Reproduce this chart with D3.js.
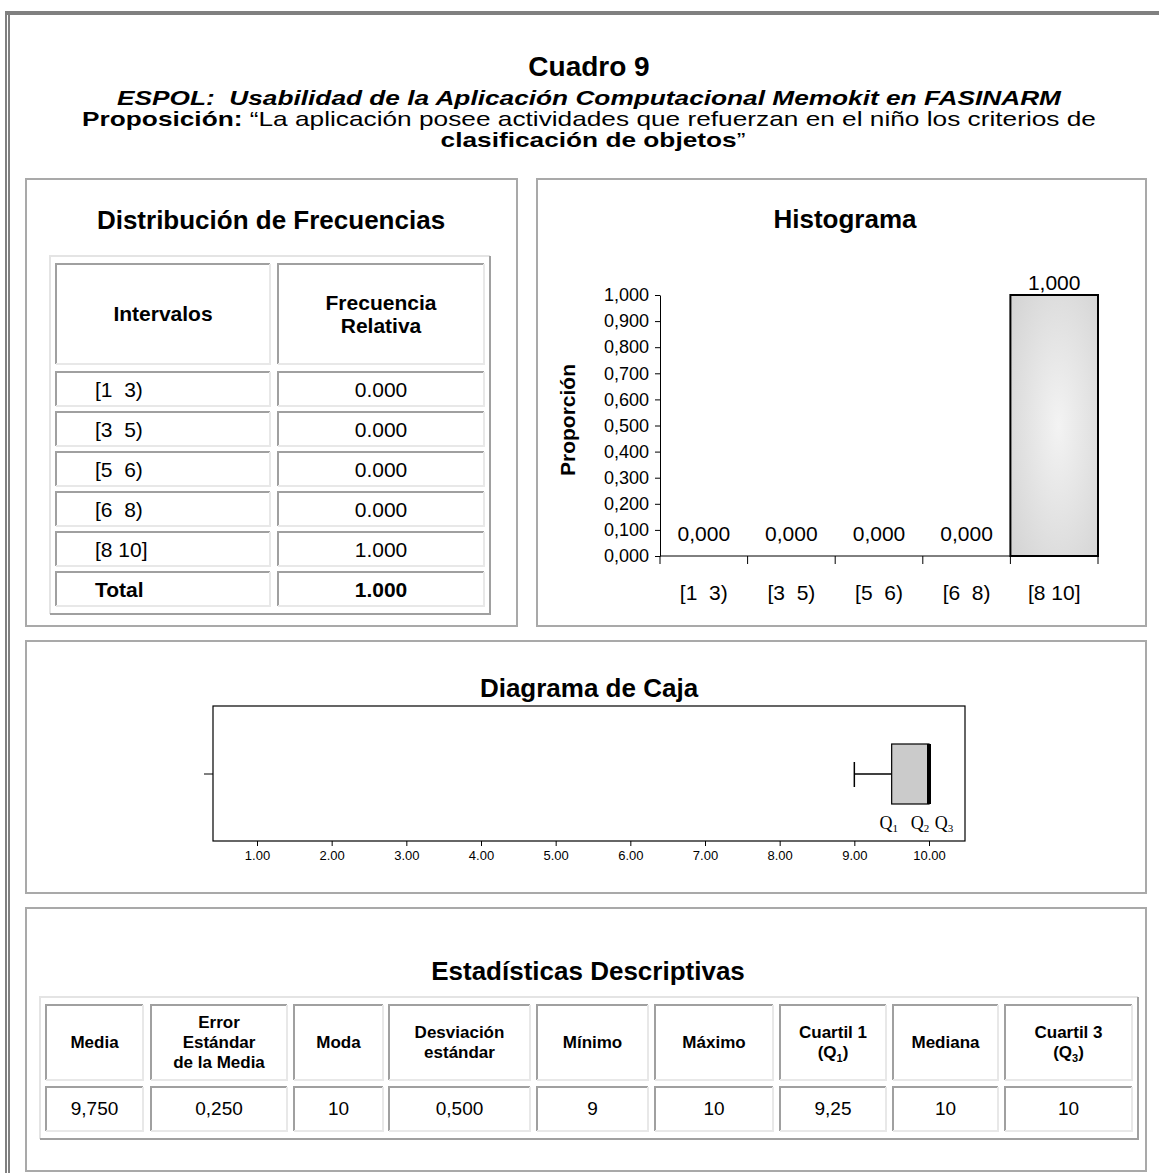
<!DOCTYPE html>
<html>
<head>
<meta charset="utf-8">
<script src="https://cdn.jsdelivr.net/npm/d3@7"></script>
<style>
  body { margin: 0; background: #fff; }
  svg text { font-family: Arial, "Liberation Sans", sans-serif; fill: #000; }
</style>
</head>
<body>
<script>
// ---- data ----
var intervals = ["[1  3)", "[3  5)", "[5  6)", "[6  8)", "[8 10]"];
var relFreq = [0, 0, 0, 0, 1];
var freqTotal = 1;
var propTicks = [0, 0.1, 0.2, 0.3, 0.4, 0.5, 0.6, 0.7, 0.8, 0.9, 1];

var boxTicks = [1, 2, 3, 4, 5, 6, 7, 8, 9, 10];
var boxKeys = ["min", "q1", "median", "q3", "max"];
var boxValues = [9, 9.5, 10, 10, 10];

var statHeaders = [["Media"], ["Error", "Estándar", "de la Media"], ["Moda"],
  ["Desviación", "estándar"], ["Mínimo"], ["Máximo"], ["Cuartil 1", "(Q_1)"],
  ["Mediana"], ["Cuartil 3", "(Q_3)"]];
var statValues = ["9,750", "0,250", "10", "0,500", "9", "10", "9,25", "10", "10"];

var es = d3.formatLocale({decimal: ",", thousands: ".", grouping: [3], currency: ["$", ""]});
var fmtComma = es.format(".3f");
var fmtDot = d3.format(".3f");

var svg = d3.select("body").append("svg")
  .attr("width", 1159)
  .attr("height", 1173);

// page frame
svg.append("rect").attr("x", 5).attr("y", 11).attr("width", 1154).attr("height", 4).attr("fill", "#808080");
svg.append("rect").attr("x", 5).attr("y", 11).attr("width", 2).attr("height", 1162).attr("fill", "#808080");
svg.append("rect").attr("x", 8).attr("y", 15).attr("width", 2).attr("height", 1158).attr("fill", "#808080");

function text(g, x, y, s, size, weight, anchor) {
  return g.append("text")
    .attr("x", x).attr("y", y)
    .attr("font-size", size)
    .attr("font-weight", weight || "normal")
    .attr("text-anchor", anchor || "middle")
    .style("white-space", "pre")
    .text(s);
}

// bevelled box, tl = colour of top/left edges, br = bottom/right
function bevel(g, x, y, w, h, tl, br) {
  g.append("path").attr("d", `M${x},${y + h}V${y}H${x + w}`)
    .attr("fill", "none").attr("stroke", tl).attr("stroke-width", 2);
  g.append("path").attr("d", `M${x + w},${y}V${y + h}H${x}`)
    .attr("fill", "none").attr("stroke", br).attr("stroke-width", 2);
}

function panel(x, y, w, h) {
  svg.append("rect").attr("x", x).attr("y", y).attr("width", w).attr("height", h)
    .attr("fill", "none").attr("stroke", "#a9a9a9").attr("stroke-width", 2);
}

// ---- heading (glyphs in the original are drawn wide) ----
var sx = 1.25;
text(svg, 589, 76, "Cuadro 9", 28, "bold");
text(svg, 0, 0, "ESPOL:  Usabilidad de la Aplicación Computacional Memokit en FASINARM", 21, "bold")
  .attr("font-style", "italic")
  .attr("transform", `translate(589,105) scale(${sx},1)`);
var l3 = svg.append("text").attr("font-size", 21).attr("text-anchor", "middle")
  .attr("transform", `translate(589,126) scale(${sx},1)`);
l3.append("tspan").attr("font-weight", "bold").text("Proposición:");
l3.append("tspan").text(" “La aplicación posee actividades que refuerzan en el niño los criterios de");
var l4 = svg.append("text").attr("font-size", 21).attr("text-anchor", "middle")
  .attr("transform", `translate(593,147) scale(${sx},1)`);
l4.append("tspan").attr("font-weight", "bold").text("clasificación de objetos");
l4.append("tspan").text("”");

// ---- panels ----
panel(26, 179, 491, 447);
panel(537, 179, 609, 447);
panel(26, 641, 1120, 252);
panel(26, 908, 1120, 263);

// ---- frequency table ----
var ft = svg.append("g");
text(ft, 271, 229, "Distribución de Frecuencias", 26, "bold");
bevel(ft, 50, 256, 440, 358, "#e4e4e4", "#a0a0a0");

var rowY = d3.scaleBand().domain(intervals.concat(["Total"])).range([372, 606]).paddingInner(0.15);
var colX = [56, 278], colW = [214, 206];

colX.forEach(function(cx, i) { bevel(ft, cx, 264, colW[i], 100, "#a0a0a0", "#e8e8e8"); });
text(ft, 163, 321, "Intervalos", 21, "bold");
text(ft, 381, 310, "Frecuencia", 21, "bold");
text(ft, 381, 333, "Relativa", 21, "bold");

intervals.forEach(function(d, i) {
  var y = rowY(d);
  colX.forEach(function(cx, j) { bevel(ft, cx, y, colW[j], rowY.bandwidth(), "#a0a0a0", "#e8e8e8"); });
  text(ft, 95, y + 25, d, 21, "normal", "start");
  text(ft, 381, y + 25, fmtDot(relFreq[i]), 21);
});
var ty = rowY("Total");
colX.forEach(function(cx, j) { bevel(ft, cx, ty, colW[j], rowY.bandwidth(), "#a0a0a0", "#e8e8e8"); });
text(ft, 95, ty + 25, "Total", 21, "bold", "start");
text(ft, 381, ty + 25, fmtDot(freqTotal), 21, "bold");

// ---- histogram ----
var hg = svg.append("g");
text(hg, 845, 228, "Histograma", 26, "bold");

var defs = svg.append("defs");
var grad = defs.append("radialGradient").attr("id", "barGrad").attr("cx", "55%").attr("cy", "50%").attr("r", "75%");
grad.append("stop").attr("offset", "0%").attr("stop-color", "#f3f3f3");
grad.append("stop").attr("offset", "100%").attr("stop-color", "#d2d2d2");

var x = d3.scaleBand().domain(intervals).range([660, 1098]).padding(0);
var y = d3.scaleLinear().domain([0, 1]).range([556, 295]);

var yAxis = hg.append("g")
  .attr("transform", "translate(660,0)")
  .call(d3.axisLeft(y).tickValues(propTicks).tickFormat(fmtComma).tickSize(5).tickSizeOuter(0).tickPadding(6));
yAxis.selectAll("text").attr("font-size", 18).attr("font-family", "Arial, 'Liberation Sans', sans-serif");
yAxis.selectAll("line, path").attr("stroke", "#000");

hg.append("line").attr("x1", 660).attr("x2", 1098).attr("y1", y(0)).attr("y2", y(0)).attr("stroke", "#000");
var bounds = intervals.map(function(d) { return x(d); }).concat([x(intervals[4]) + x.bandwidth()]);
hg.selectAll(".xt").data(bounds).enter().append("line")
  .attr("x1", function(d) { return d; }).attr("x2", function(d) { return d; })
  .attr("y1", y(0)).attr("y2", y(0) + 8).attr("stroke", "#000");

hg.selectAll(".bar").data(relFreq).enter().append("rect")
  .attr("x", function(d, i) { return x(intervals[i]); })
  .attr("y", function(d) { return y(d); })
  .attr("width", x.bandwidth())
  .attr("height", function(d) { return y(0) - y(d); })
  .attr("fill", "url(#barGrad)")
  .attr("stroke", function(d) { return d > 0 ? "#000" : "none"; })
  .attr("stroke-width", 2);

relFreq.forEach(function(d, i) {
  var cx = x(intervals[i]) + x.bandwidth() / 2;
  text(hg, cx, Math.min(y(d) - 5, y(0) - 15), fmtComma(d), 21);
  text(hg, cx, 600, intervals[i], 21);
});

text(hg, 0, 0, "Proporción", 21, "bold")
  .attr("transform", "translate(575,420) rotate(-90)");

// ---- box plot ----
var bg = svg.append("g");
text(bg, 589, 697, "Diagrama de Caja", 26, "bold");
bg.append("rect").attr("x", 213).attr("y", 706).attr("width", 752).attr("height", 135)
  .attr("fill", "none").attr("stroke", "#000").attr("stroke-width", 1.2);
bg.append("line").attr("x1", 204).attr("x2", 213).attr("y1", 774).attr("y2", 774).attr("stroke", "#000");

var bx = d3.scaleLinear().domain([1, 10]).range([257, 929]);
var bAxis = bg.append("g")
  .attr("transform", "translate(0,841)")
  .call(d3.axisBottom(bx).tickValues(boxTicks).tickFormat(d3.format(".2f")).tickSize(5).tickPadding(5));
bAxis.select(".domain").remove();
bAxis.selectAll("text").attr("font-size", 13).attr("font-family", "Arial, 'Liberation Sans', sans-serif");

var bv = {};
boxKeys.forEach(function(k, i) { bv[k] = boxValues[i]; });
var cy = 774;
bg.append("line").attr("x1", bx(bv.min)).attr("x2", bx(bv.q1)).attr("y1", cy).attr("y2", cy).attr("stroke", "#000").attr("stroke-width", 1.5);
bg.append("line").attr("x1", bx(bv.min)).attr("x2", bx(bv.min)).attr("y1", cy - 12).attr("y2", cy + 13).attr("stroke", "#000").attr("stroke-width", 1.5);
bg.append("rect").attr("x", bx(bv.q1)).attr("y", 744).attr("width", bx(bv.q3) - bx(bv.q1)).attr("height", 60)
  .attr("fill", "#cbcbcb").attr("stroke", "#000").attr("stroke-width", 1.2);
bg.append("line").attr("x1", bx(bv.median)).attr("x2", bx(bv.median)).attr("y1", 744).attr("y2", 804)
  .attr("stroke", "#000").attr("stroke-width", 4);

[["1", bx(bv.q1) - 3], ["2", bx(bv.median) - 9], ["3", bx(bv.q3) + 15]].forEach(function(q) {
  var t = bg.append("text").attr("x", q[1]).attr("y", 829).attr("text-anchor", "middle")
    .attr("font-size", 18).style("font-family", "'Liberation Serif', 'Times New Roman', serif");
  t.append("tspan").text("Q");
  t.append("tspan").attr("font-size", 11).attr("dy", 3).text(q[0]);
});

// ---- descriptive stats table ----
var sg = svg.append("g");
text(sg, 588, 980, "Estadísticas Descriptivas", 26, "bold");
bevel(sg, 40, 997, 1098, 142, "#e4e4e4", "#a0a0a0");

var colL = [46, 151, 294, 389, 537, 655, 780, 893, 1005];
var colR = [143, 287, 383, 530, 648, 773, 886, 998, 1132];

statHeaders.forEach(function(lines, i) {
  var cx = (colL[i] + colR[i]) / 2;
  var w = colR[i] - colL[i];
  bevel(sg, colL[i], 1005, w, 75, "#a0a0a0", "#e8e8e8");
  bevel(sg, colL[i], 1087, w, 44, "#a0a0a0", "#e8e8e8");
  var y0 = 1048 - (lines.length - 1) * 10;
  lines.forEach(function(s, j) {
    var t = sg.append("text").attr("x", cx).attr("y", y0 + j * 20)
      .attr("font-size", 17).attr("font-weight", "bold").attr("text-anchor", "middle");
    if (s.indexOf("_") >= 0) {
      var p = s.split("_");
      t.append("tspan").text(p[0]);
      t.append("tspan").attr("font-size", 11).attr("dy", 4).text(p[1].slice(0, 1));
      t.append("tspan").attr("dy", -4).text(p[1].slice(1));
    } else {
      t.text(s);
    }
  });
  text(sg, cx, 1115, statValues[i], 19);
});
</script>
</body>
</html>
